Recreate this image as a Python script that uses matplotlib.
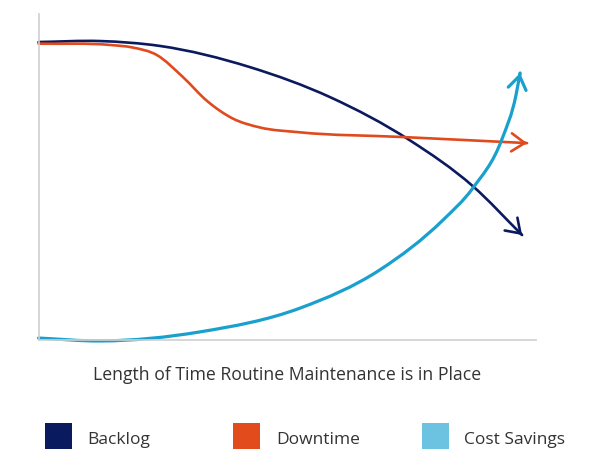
import matplotlib
matplotlib.use("Agg")
import matplotlib.pyplot as plt
from matplotlib.patches import Rectangle, PathPatch
from matplotlib.path import Path
import numpy as np

plt.rcParams['font.family'] = ['Open Sans', 'DejaVu Sans']

# values (arbitrary units, 0-100)
backlog_x = [0, 12.4, 24.4, 42.5, 58.6, 74.7, 87.3, 97.2]
backlog_y = [91.4, 91.7, 90.2, 83.7, 74.5, 61.2, 47.2, 32.2]

downtime_x = [0, 14.4, 19.0, 23.8, 29.0, 33.9, 39.1, 44.5, 52.6, 72.6, 98.2]
downtime_y = [90.9, 90.5, 89.7, 87.4, 80.7, 73.3, 67.9, 65.2, 63.7, 62.3, 60.4]

cost_x = [0, 12.4, 32.5, 52.6, 68.6, 81.3, 87.3, 93.2, 96.0, 96.8]
cost_y = [0.6, -0.3, 2.5, 9.8, 21.5, 36.8, 46.6, 61.8, 75.3, 81.9]

labels = ["Backlog", "Downtime", "Cost Savings"]
line_colors = ["#0b1a5e", "#e04a1c", "#1aa0cd"]
box_colors = ["#0a1a5e", "#e24b1c", "#6cc3e1"]
xlabel = "Length of Time Routine Maintenance is in Place"


def smooth_path(xs, ys):
    # cubic Hermite curve y(x) through the points, drawn as Bezier segments
    x = np.asarray(xs, float)
    y = np.asarray(ys, float)
    h = np.diff(x)
    d = np.diff(y) / h
    m = np.empty_like(x)
    m[0], m[-1] = d[0], d[-1]
    m[1:-1] = (h[1:] * d[:-1] + h[:-1] * d[1:]) / (h[:-1] + h[1:])
    verts = [(x[0], y[0])]
    codes = [Path.MOVETO]
    for i in range(len(x) - 1):
        verts += [(x[i] + h[i] / 3, y[i] + m[i] * h[i] / 3),
                  (x[i + 1] - h[i] / 3, y[i + 1] - m[i + 1] * h[i] / 3),
                  (x[i + 1], y[i + 1])]
        codes += [Path.CURVE4] * 3
    return Path(verts, codes), m[-1]


W, H = 609, 475
fig = plt.figure(figsize=(W / 100, H / 100), dpi=100)
ax = fig.add_axes([38.5 / W, (H - 340) / H, (536 - 38.5) / W, (340 - 14) / H])
ax.set_xlim(0, 100)
ax.set_ylim(0, 100)
for s in ['top', 'right']:
    ax.spines[s].set_visible(False)
for s in ['left', 'bottom']:
    ax.spines[s].set_color('#cfcfcf')
    ax.spines[s].set_linewidth(1.2)
ax.set_xticks([])
ax.set_yticks([])

series = [(backlog_x, backlog_y, 1.9), (downtime_x, downtime_y, 1.9), (cost_x, cost_y, 2.3)]
for (xs, ys, lw), c in zip(series, line_colors):
    path, slope = smooth_path(xs, ys)
    ax.add_patch(PathPatch(path, fill=False, edgecolor=c, lw=lw,
                           clip_on=False, capstyle='round', joinstyle='round'))
    # arrow head along the final direction of the curve
    step = 0.3 / np.hypot(1, slope)
    ax.annotate('', xy=(xs[-1], ys[-1]),
                xytext=(xs[-1] - step, ys[-1] - step * slope),
                arrowprops=dict(arrowstyle='->,head_length=9.5,head_width=6.5',
                                mutation_scale=1, color=c, lw=lw,
                                shrinkA=0, shrinkB=0),
                annotation_clip=False)

fig.text(286.7 / W, (H - 380) / H, xlabel, ha='center', va='baseline',
         fontsize=12.7, color='#333333')

box_x = [45, 233.3, 422]
text_x = [87, 276.7, 464]
for bx, tx, lab, c in zip(box_x, text_x, labels, box_colors):
    fig.add_artist(Rectangle((bx / W, (H - 449.3) / H), 26.5 / W, 26.5 / H,
                             transform=fig.transFigure, color=c, lw=0))
    fig.text(tx / W, (H - 444) / H, lab, ha='left', va='baseline',
             fontsize=12.5, color='#333333')

fig.savefig("out.png", dpi=100)
